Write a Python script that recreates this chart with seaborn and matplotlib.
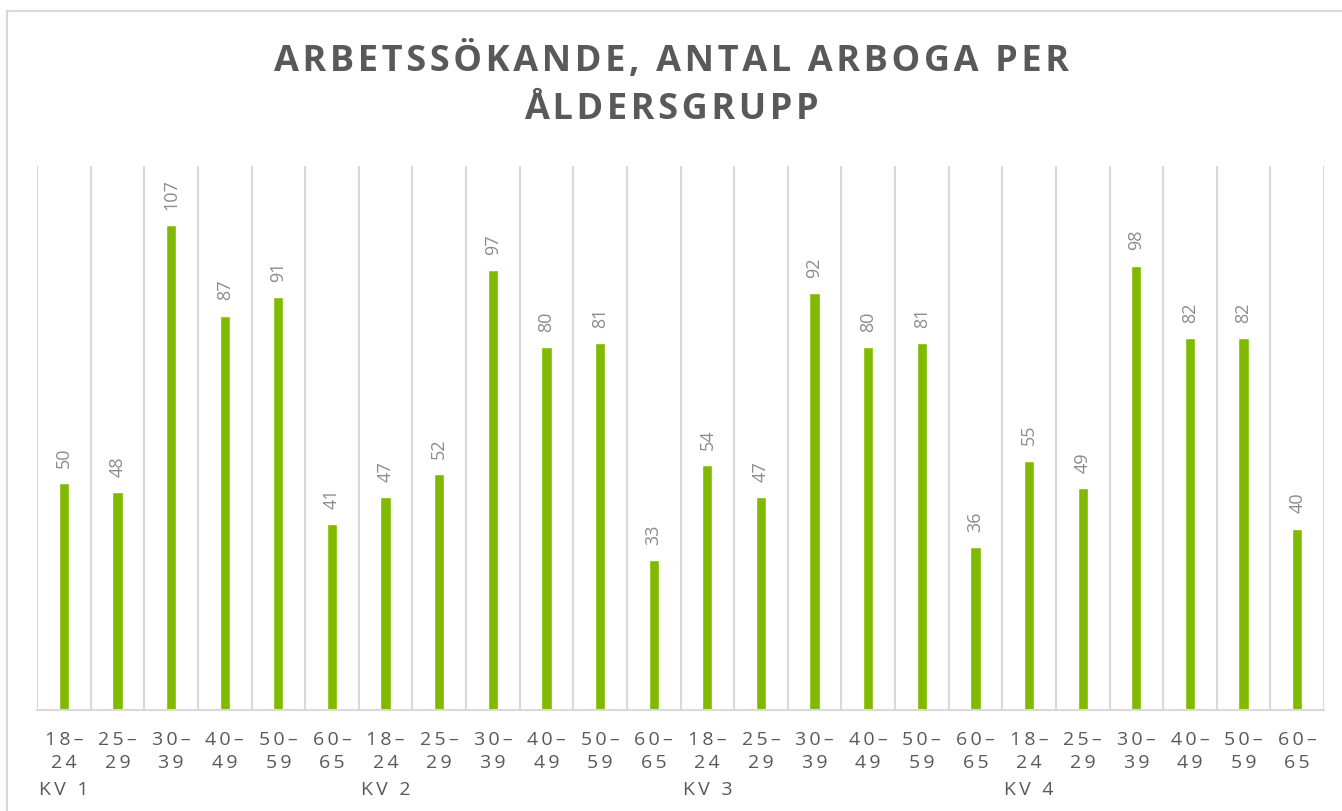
import numpy as np
import pandas as pd
import matplotlib
matplotlib.use("Agg")
import matplotlib.pyplot as plt
import seaborn as sns
from matplotlib.patches import Rectangle

# data
quarters = ["KV 1", "KV 2", "KV 3", "KV 4"]
age_groups = ["18–24", "25–29", "30–39", "40–49", "50–59", "60–65"]
kv1 = [50, 48, 107, 87, 91, 41]
kv2 = [47, 52, 97, 80, 81, 33]
kv3 = [54, 47, 92, 80, 81, 36]
kv4 = [55, 49, 98, 82, 82, 40]
title = "ARBETSSÖKANDE, ANTAL ARBOGA PER\nÅLDERSGRUPP"

BAR = "#7FBA00"
GRID = "#D9D9D9"
TXT = "#595959"
VAL = "#8C8C8C"

sns.set_theme(style="white")
plt.rcParams['font.family'] = ['Open Sans', 'DejaVu Sans']


def spaced(s, sp="\u2009"):
    return "\n".join(sp.join(line) for line in s.split("\n"))


rows = []
for q, vals in zip(quarters, [kv1, kv2, kv3, kv4]):
    for a, v in zip(age_groups, vals):
        rows.append({"kv": q, "age": a, "value": v})
df = pd.DataFrame(rows)
df["pos"] = np.arange(len(df))

fig = plt.figure(figsize=(13.42, 8.11), dpi=100)
ax = fig.add_axes([37 / 1342, 1 - 710 / 811, (1324 - 37) / 1342, (710 - 166) / 811])

sns.barplot(data=df, x="pos", y="value", color=BAR, width=0.19,
            saturation=1, ax=ax)
for c in ax.containers:
    ax.bar_label(c, rotation=90, padding=11, color=VAL, fontsize=13)

ax.set_ylim(0, 120)
ax.set_xlim(-0.5, len(df) - 0.5)
ax.set_yticks([])
ax.set_xlabel("")
ax.set_ylabel("")

# category separators
ax.set_xticks(np.arange(-0.5, len(df)), minor=True)
ax.grid(True, which="minor", axis="x", color=GRID, linewidth=1.5)
ax.grid(False, which="major")
ax.tick_params(axis="x", which="both", length=0)

labels = [spaced(a.replace("–", "–\n")) for a in df["age"]]
ax.set_xticks(df["pos"])
ax.set_xticklabels(labels, color=TXT, fontsize=14, linespacing=1.4)
ax.tick_params(axis="x", pad=15)

for s in ["left", "right", "top"]:
    ax.spines[s].set_visible(False)
ax.spines["bottom"].set_color(GRID)
ax.spines["bottom"].set_linewidth(1.5)

# quarter labels under the first age group of each quarter
for i, q in enumerate(quarters):
    ax.text(i * 6, -0.147, spaced(q), transform=ax.get_xaxis_transform(),
            ha="center", va="center", color=TXT, fontsize=14)

fig.text(0.5, 1 - 85 / 811, spaced(title, "\u200a"), ha="center", va="center",
         fontsize=26, fontweight="bold", color=TXT, linespacing=1.42)

# chart area frame
fig.patches.append(Rectangle((7 / 1342, -0.1), 1.2, 1 - 11 / 811 + 0.1,
                             transform=fig.transFigure, fill=False,
                             edgecolor=GRID, linewidth=1.5))

fig.savefig("out.png", dpi=100, facecolor="white")
